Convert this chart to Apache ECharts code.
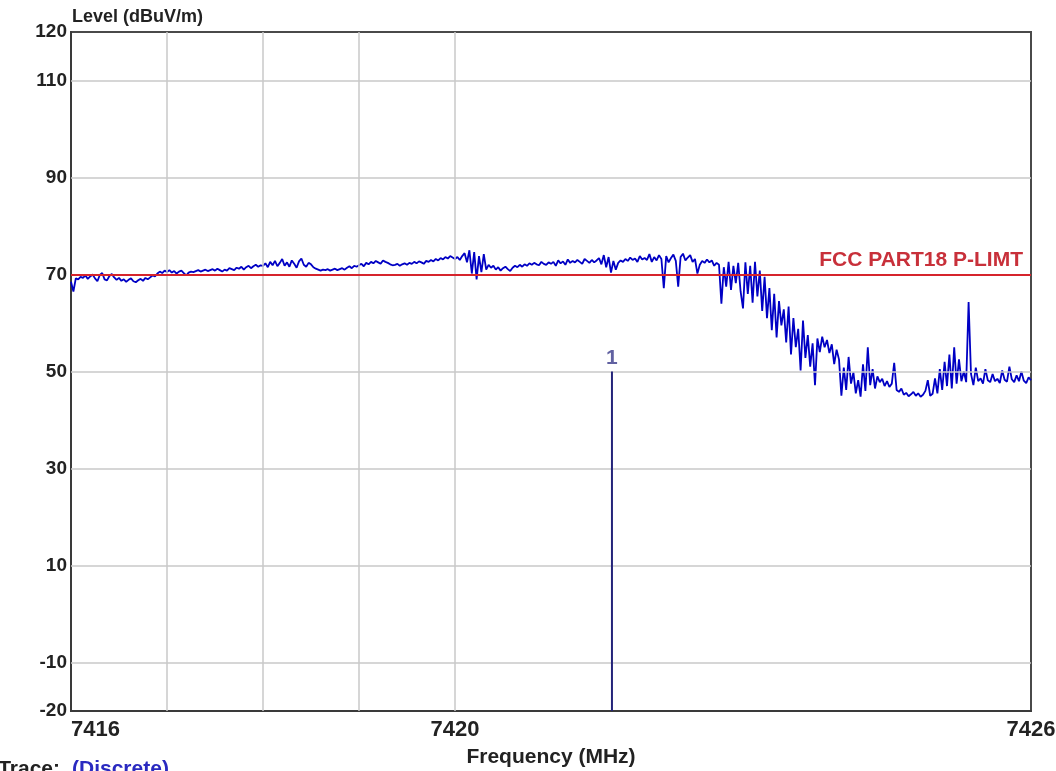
<!DOCTYPE html>
<html>
<head>
<meta charset="utf-8">
<script src="https://cdn.jsdelivr.net/npm/echarts@6/dist/echarts.min.js"></script>
<style>
html,body{margin:0;padding:0;background:#fff;}
#chart{width:1056px;height:771px;}
</style>
</head>
<body>
<div id="chart"></div>
<script>
// Sweep: uniform frequency steps
const startFreq = 7416;
const stepMHz = 0.025;

const levels7416 = [68.5,66.5,69.2,69.0,69.5,69.3,69.8,69.1,69.6,70.0,
69.2,68.6,69.9,70.3,69.0,68.8,69.7,70.1,69.4,68.9,
69.3,68.7,69.0,68.5,68.9,69.2,68.6,68.4,68.8,69.1,
68.7,69.3,69.0,69.4,69.8,69.6,70.2,70.6,70.3,70.8];
const levels7417 = [70.5,70.9,70.4,70.7,70.2,70.6,70.8,70.3,69.8,70.4,
70.6,70.5,70.7,70.9,70.6,70.8,71.0,70.7,70.9,71.1,
70.8,71.2,70.9,70.6,71.0,70.8,71.3,71.1,70.9,71.4,
71.2,71.6,71.0,71.5,71.8,71.3,71.7,72.0,71.6,71.9];
const levels7418 = [71.8,72.3,71.5,72.6,71.9,72.8,71.7,72.4,73.2,71.8,
72.5,71.6,72.9,72.2,71.4,72.7,73.3,72.0,71.6,72.4,
72.1,71.5,71.2,71.0,70.8,71.0,70.9,71.1,70.8,71.0,
71.2,70.9,71.1,71.3,71.0,71.4,71.7,71.3,71.8,71.6];
const levels7419 = [71.9,72.2,71.7,72.4,72.1,72.6,72.3,72.8,72.5,72.2,
72.9,72.6,72.4,72.1,71.9,72.0,72.2,71.8,72.1,72.3,
72.0,72.4,72.2,72.6,72.3,72.7,72.5,72.2,72.8,72.6,
73.0,72.7,73.2,72.9,73.4,73.1,73.6,73.3,73.8,73.5];
const levels7420 = [73.2,73.6,73.0,73.8,74.4,72.5,75.0,70.2,74.6,69.0,
73.8,70.5,74.2,71.0,72.0,71.4,71.8,71.0,71.5,70.8,
71.3,71.6,71.1,70.7,71.4,71.8,71.5,72.0,71.6,72.1,
71.8,72.3,72.0,72.4,72.1,71.9,72.6,72.2,72.0,72.5];
const levels7421 = [72.2,72.6,71.8,72.9,72.3,72.7,72.0,73.1,72.4,72.8,
72.5,73.0,72.6,72.2,73.2,72.8,72.4,73.0,72.5,72.9,
73.4,72.1,74.0,71.5,73.6,70.4,72.8,71.0,72.4,72.9,
72.6,73.2,72.8,73.5,73.0,73.3,72.6,73.8,73.1,73.4];
const levels7422 = [73.0,74.2,72.6,73.6,72.9,74.0,73.2,67.2,73.8,72.5,
73.4,74.1,72.8,67.5,73.6,74.3,72.9,73.5,74.0,72.6,
73.2,70.2,72.0,72.8,72.4,73.1,72.5,72.9,71.8,72.4,
72.0,64.0,71.5,67.5,72.6,66.8,71.8,68.2,72.4,66.5];
const levels7423 = [63.0,72.5,66.0,71.8,64.2,72.6,65.5,70.8,62.5,69.5,
61.0,67.2,58.5,66.0,57.0,64.5,59.5,62.8,56.0,63.4,
53.5,61.0,55.0,58.8,50.2,60.5,52.8,57.5,51.0,55.8,
47.2,56.8,54.0,57.2,55.0,56.5,53.8,55.6,51.5,54.5];
const levels7424 = [52.5,45.0,50.8,46.2,53.0,47.5,49.8,45.5,48.2,44.8,
51.5,46.0,55.0,47.2,50.5,46.5,49.0,47.8,48.5,47.0,
48.0,46.8,47.5,51.8,46.2,45.8,46.5,45.2,45.6,44.9,
45.3,45.8,45.0,45.5,44.8,45.2,46.0,48.2,45.0,45.4];
const levels7425 = [48.6,45.5,50.5,46.2,52.0,47.0,53.5,46.5,55.0,47.5,
52.5,48.0,50.0,47.8,64.3,49.5,47.2,50.8,48.0,48.6,
47.5,50.5,48.2,47.8,49.5,48.0,48.5,47.6,50.2,48.3,
47.9,51.0,48.4,47.8,49.2,48.0,50.0,48.1,47.6,48.8,
48.2];

const xTickLabels = [7416, 7420, 7426];
const yTickLabels = [120, 110, 90, 70, 50, 30, 10, -10, -20];
const xGridLines = [7417, 7418, 7419, 7420];
const yGridLines = [110, 90, 70, 50, 30, 10, -10];

const limitLevel = 70;
const limitLabel = 'FCC PART18 P-LIMT';
const markerFreq = 7421.635;
const markerLevel = 50;
const markerLabel = '1';

const allLevels = [].concat(levels7416, levels7417, levels7418, levels7419, levels7420,
  levels7421, levels7422, levels7423, levels7424, levels7425);
const traceData = allLevels.map((v, i) => [+(startFreq + i * stepMHz).toFixed(3), v]);

const chart = echarts.init(document.getElementById('chart'), null, {renderer: 'canvas'});
const gridColor = '#c9c9c9';
const option = {
  animation: false,
  backgroundColor: '#ffffff',
  grid: {left: 71, right: 25, top: 32, bottom: 60, outerBoundsMode: 'none', containLabel: false,
    show: true, borderColor: '#4a4a4a', borderWidth: 2, backgroundColor: '#fff'},
  xAxis: {
    type: 'value', min: 7416, max: 7426, interval: 1,
    name: 'Frequency (MHz)', nameLocation: 'middle', nameGap: 36,
    nameTextStyle: {fontFamily: 'Liberation Sans Narrow, Liberation Sans, Arial', fontWeight: 'bold', fontSize: 21, color: '#222'},
    axisLine: {show: true, onZero: false, lineStyle: {color: '#3a3a3a', width: 2}},
    axisTick: {show: false},
    splitLine: {show: false},
    axisLabel: {
      margin: 8, fontFamily: 'Liberation Sans Narrow, Liberation Sans, Arial', fontWeight: 'bold', fontSize: 22, color: '#222',
      showMinLabel: true, showMaxLabel: true, alignMinLabel: 'left',
      formatter: v => xTickLabels.indexOf(Math.round(v)) >= 0 && Math.abs(v - Math.round(v)) < 1e-6 ? String(Math.round(v)) : ''
    }
  },
  yAxis: {
    type: 'value', min: -20, max: 120, interval: 10,
    axisLine: {show: true, onZero: false, lineStyle: {color: '#3a3a3a', width: 2}},
    axisTick: {show: false},
    splitLine: {show: false},
    axisLabel: {
      margin: 4, fontFamily: 'Liberation Sans, Arial', fontWeight: 'bold', fontSize: 19, color: '#222',
      showMinLabel: true, showMaxLabel: true,
      formatter: v => yTickLabels.indexOf(Math.round(v)) >= 0 ? String(Math.round(v)) : ''
    }
  },
  graphic: [
    {type: 'text', left: 72, top: 8, style: {text: 'Level (dBuV/m)', font: 'bold 18px "Liberation Sans", Arial', fill: '#222'}},
    {type: 'text', x: 60, y: 759, style: {text: 'Trace:', textAlign: 'right', font: 'bold 21px "Liberation Sans", Arial', fill: '#222'}},
    {type: 'text', x: 72, y: 759, style: {text: '(Discrete)', font: 'bold 21px "Liberation Sans", Arial', fill: '#2a2ac0'}}
  ],
  series: [
    {
      name: 'grid', type: 'line', data: [], z: 1, silent: true,
      markLine: {
        silent: true, symbol: 'none', animation: false,
        label: {show: false},
        lineStyle: {color: gridColor, width: 1.5, type: 'solid'},
        data: xGridLines.map(x => ({xAxis: x})).concat(yGridLines.map(y => ({yAxis: y})))
      }
    },
    {
      name: 'trace', type: 'line', data: traceData, showSymbol: false, z: 3,
      lineStyle: {color: '#0000c4', width: 1.8}
    },
    {
      name: 'limit', type: 'line', data: [], z: 4, silent: true,
      markLine: {
        silent: true, symbol: 'none', animation: false,
        lineStyle: {color: '#d6242c', width: 2, type: 'solid'},
        label: {show: true, position: 'insideEndTop', distance: [8, 4], formatter: limitLabel,
          fontFamily: 'Liberation Sans Narrow, Liberation Sans, Arial', fontWeight: 'bold', fontSize: 21, color: '#c8303a'},
        data: [{yAxis: limitLevel}]
      }
    },
    {
      name: 'marker', type: 'line', z: 5, showSymbol: false,
      data: [[markerFreq, -20], [markerFreq, markerLevel]],
      lineStyle: {color: '#24247a', width: 2}
    },
    {
      name: 'markerLabel', type: 'scatter', z: 5, symbolSize: 0,
      data: [[markerFreq, markerLevel]],
      label: {show: true, position: 'top', distance: 3, formatter: markerLabel,
        fontFamily: 'Liberation Sans, Arial', fontWeight: 'bold', fontSize: 21, color: '#3a3a8a'}
    }
  ]
};
chart.setOption(option);
</script>
</body>
</html>
